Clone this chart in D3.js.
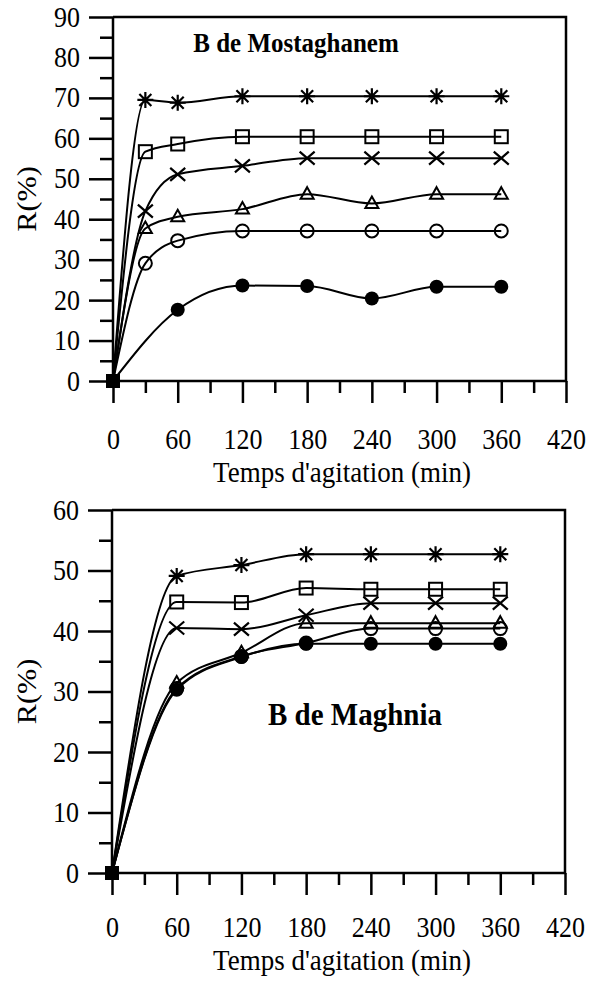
<!DOCTYPE html>
<html lang="en">
<head>
<meta charset="utf-8">
<script src="https://d3js.org/d3.v7.min.js"></script>
<style>
  body { margin: 0; background: #fff; }
  text { font-family: "Liberation Serif", "Times New Roman", serif; fill: #000; }
</style>
</head>
<body>
<script>
// time axis (min)
var timeTop = [0, 30, 60, 120, 180, 240, 300, 360];
var timeBottom = [0, 60, 120, 180, 240, 300, 360];
var xTicks = [0, 60, 120, 180, 240, 300, 360, 420];

// B de Mostaghanem, R(%)
var mostStar = [0, 69.5, 68.8, 70.4, 70.4, 70.4, 70.4, 70.4];
var mostSquare = [0, 56.7, 58.6, 60.4, 60.4, 60.4, 60.4, 60.4];
var mostCross = [0, 42.0, 51.1, 53.2, 55.1, 55.1, 55.1, 55.1];
var mostTriangle = [0, 37.7, 40.6, 42.5, 46.2, 43.9, 46.2, 46.2];
var mostCircle = [0, 29.1, 34.7, 37.1, 37.1, 37.1, 37.1, 37.1];
var mostDot = [0, null, 17.6, 23.6, 23.5, 20.4, 23.3, 23.3];
var mostYTicks = [0, 10, 20, 30, 40, 50, 60, 70, 80, 90];

// B de Maghnia, R(%)
var magStar = [0, 49.1, 50.9, 52.7, 52.7, 52.7, 52.7];
var magSquare = [0, 44.8, 44.7, 47.1, 46.9, 46.9, 46.9];
var magCross = [0, 40.5, 40.3, 42.6, 44.6, 44.6, 44.6];
var magTriangle = [0, 31.4, 36.4, 41.3, 41.3, 41.3, 41.3];
var magCircle = [0, 30.5, 35.8, 38.0, 40.4, 40.4, 40.4];
var magDot = [0, 30.3, 35.7, 37.9, 37.9, 37.9, 37.9];
var magYTicks = [0, 10, 20, 30, 40, 50, 60];

var STRETCH = 1.12; // the text in the figure is a bit taller than wide

var svg = d3.select("body").append("svg")
  .attr("width", 589).attr("height", 981);

// marker shapes
var markers = {
  star: function (g) {
    g.append("path").attr("d", "M0,-8V8M-8,0H8M-6,-6L6,6M-6,6L6,-6")
      .attr("stroke", "#000").attr("stroke-width", 2.2).attr("fill", "none");
  },
  square: function (g) {
    g.append("rect").attr("x", -6.5).attr("y", -6.5).attr("width", 13).attr("height", 13)
      .attr("stroke", "#000").attr("stroke-width", 2).attr("fill", "none");
  },
  cross: function (g) {
    g.append("path").attr("d", "M-7.5,-6.5L7.5,6.5M-7.5,6.5L7.5,-6.5")
      .attr("stroke", "#000").attr("stroke-width", 2.2).attr("fill", "none");
  },
  triangle: function (g) {
    g.append("path").attr("d", "M0,-7L6.5,4.5H-6.5Z")
      .attr("stroke", "#000").attr("stroke-width", 2).attr("fill", "none");
  },
  circle: function (g) {
    g.append("circle").attr("r", 6.5)
      .attr("stroke", "#000").attr("stroke-width", 2).attr("fill", "none");
  },
  dot: function (g) {
    g.append("circle").attr("r", 7).attr("fill", "#000");
  }
};

function stretchText(sel, x, y) {
  sel.attr("transform", "translate(" + x + "," + y + ") scale(1," + STRETCH + ")");
}

function panel(opt) {
  var x = d3.scaleLinear().domain([0, 420]).range([opt.left, opt.right]);
  var y = d3.scaleLinear().domain([0, opt.yMax]).range([opt.bottom, opt.top]);
  var g = svg.append("g");

  // minor ticks
  var yMinor = d3.range(5, opt.yMax, 10);
  g.append("g").attr("transform", "translate(" + opt.left + ",0)")
    .call(d3.axisLeft(y).tickValues(yMinor).tickSize(13).tickSizeOuter(0).tickFormat(""))
    .call(function (a) { a.select(".domain").remove(); });
  g.append("g").attr("transform", "translate(0," + opt.bottom + ")")
    .call(d3.axisBottom(x).tickValues(d3.range(30, 420, 60)).tickSize(12).tickSizeOuter(0).tickFormat(""))
    .call(function (a) { a.select(".domain").remove(); });

  // major ticks
  var ya = g.append("g").attr("transform", "translate(" + opt.left + ",0)")
    .call(d3.axisLeft(y).tickValues(opt.yTicks).tickSize(24).tickSizeOuter(0));
  var xa = g.append("g").attr("transform", "translate(0," + opt.bottom + ")")
    .call(d3.axisBottom(x).tickValues(xTicks).tickSize(22).tickSizeOuter(0));
  [ya, xa].forEach(function (a) { a.select(".domain").remove(); });

  // tick labels, stretched like the original
  ya.selectAll(".tick text")
    .attr("x", null).attr("dy", null).attr("text-anchor", "end")
    .style("font-family", "Liberation Serif").style("font-size", "26px")
    .each(function () { stretchText(d3.select(this), -33, 9); });
  xa.selectAll(".tick text")
    .attr("y", null).attr("dy", null).attr("text-anchor", "middle")
    .style("font-family", "Liberation Serif").style("font-size", "26px")
    .each(function () { stretchText(d3.select(this), 0, opt.tickLabelDy); });

  g.selectAll(".tick line").attr("stroke", "#000").attr("stroke-width", 2.5);

  // axes and frame
  g.append("path")
    .attr("d", "M" + opt.left + "," + opt.top + "V" + opt.bottom + "H" + x(420) + "V" + opt.top + "H" + opt.left)
    .attr("fill", "none").attr("stroke", "#000").attr("stroke-width", 2.5);

  // series
  var line = d3.line()
    .x(function (d) { return x(d[0]); })
    .y(function (d) { return y(d[1]); })
    .curve(d3.curveMonotoneX);

  opt.series.forEach(function (s) {
    var pts = s.values.map(function (v, i) { return [opt.times[i], v]; })
      .filter(function (d) { return d[1] !== null; });
    g.append("path").datum(pts).attr("d", line)
      .attr("fill", "none").attr("stroke", "#000").attr("stroke-width", 2);
    pts.forEach(function (d) {
      if (d[1] === 0) return;
      var m = g.append("g").attr("transform", "translate(" + x(d[0]) + "," + y(d[1]) + ")");
      markers[s.marker](m);
    });
  });

  // overlapping markers at the origin
  g.append("rect").attr("x", x(0) - 7).attr("y", y(0) - 7)
    .attr("width", 14).attr("height", 14).attr("fill", "#000");

  g.append("text")
    .attr("text-anchor", "middle")
    .style("font-size", opt.labelSize + "px").style("font-weight", "bold")
    .text(opt.label)
    .call(stretchText, opt.labelX, opt.labelY);

  g.append("text")
    .attr("text-anchor", "middle")
    .style("font-size", "27px")
    .text("Temps d'agitation (min)")
    .call(stretchText, 342, opt.bottom + opt.titleDy);

  g.append("text")
    .attr("transform", "translate(36," + ((opt.top + opt.bottom) / 2) + ") rotate(-90) scale(" + STRETCH + ",1)")
    .attr("text-anchor", "middle")
    .style("font-size", "27px")
    .text("R(%)");
}

panel({
  left: 113, right: 566, top: 17, bottom: 381, yMax: 90, yTicks: mostYTicks,
  times: timeTop, label: "B de Mostaghanem", labelX: 296, labelY: 52, labelSize: 25,
  tickLabelDy: 68, titleDy: 101,
  series: [
    { values: mostStar, marker: "star" },
    { values: mostSquare, marker: "square" },
    { values: mostCross, marker: "cross" },
    { values: mostTriangle, marker: "triangle" },
    { values: mostCircle, marker: "circle" },
    { values: mostDot, marker: "dot" }
  ]
});

panel({
  left: 112, right: 565, top: 510, bottom: 873, yMax: 60, yTicks: magYTicks,
  times: timeBottom, label: "B de Maghnia", labelX: 355, labelY: 725, labelSize: 29,
  tickLabelDy: 64, titleDy: 97,
  series: [
    { values: magStar, marker: "star" },
    { values: magSquare, marker: "square" },
    { values: magCross, marker: "cross" },
    { values: magTriangle, marker: "triangle" },
    { values: magCircle, marker: "circle" },
    { values: magDot, marker: "dot" }
  ]
});
</script>
</body>
</html>
